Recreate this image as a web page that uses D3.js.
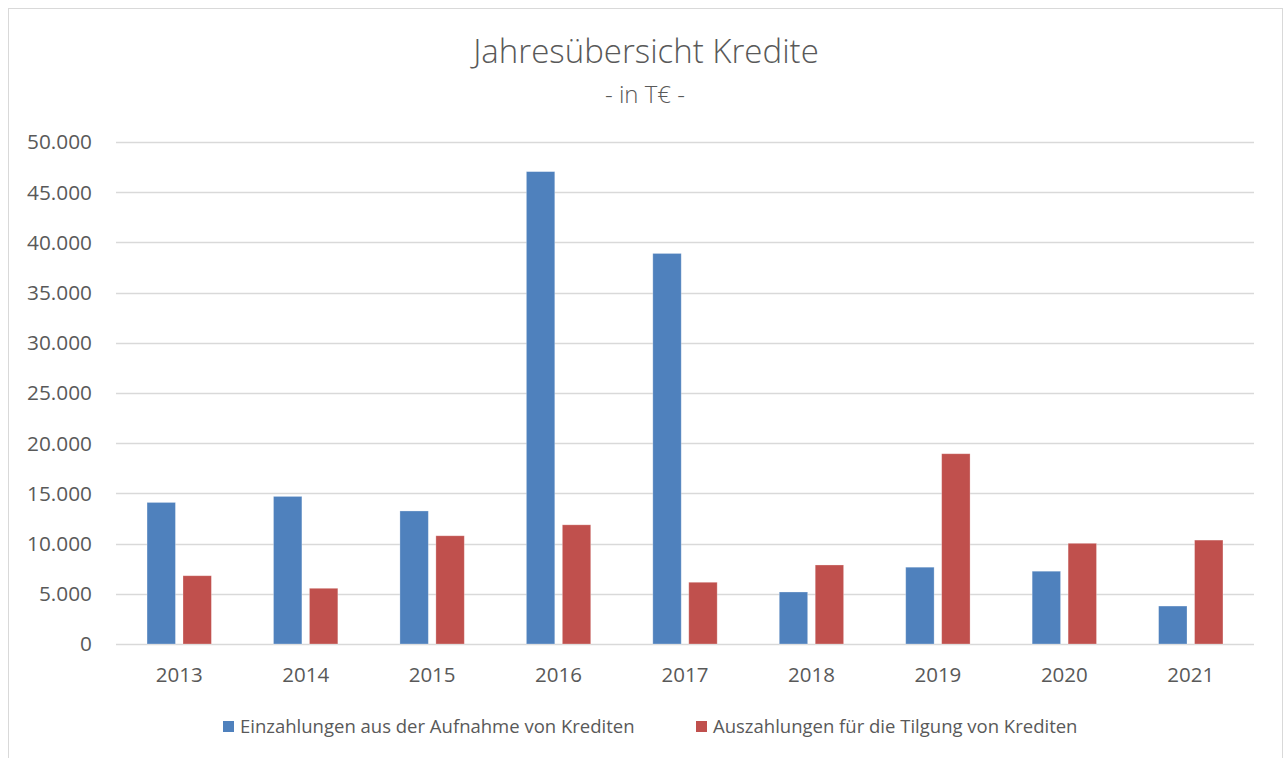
<!DOCTYPE html>
<html>
<head>
<meta charset="utf-8">
<script src="https://cdn.jsdelivr.net/npm/d3@7"></script>
<style>
  html, body { margin: 0; padding: 0; background: #fff; }
  svg text { font-family: "Open Sans", "Noto Sans", sans-serif; fill: #595959; }
</style>
</head>
<body>
<div id="chart"></div>
<script>
"use strict";

// data
var years = ["2013", "2014", "2015", "2016", "2017", "2018", "2019", "2020", "2021"];
var einzahlungen = [14100, 14700, 13250, 47050, 38900, 5180, 7650, 7250, 3780];
var auszahlungen = [6800, 5550, 10780, 11870, 6150, 7870, 18950, 10030, 10350];
var seriesNames = ["Einzahlungen aus der Aufnahme von Krediten", "Auszahlungen für die Tilgung von Krediten"];
var yTicks = [0, 5000, 10000, 15000, 20000, 25000, 30000, 35000, 40000, 45000, 50000];

(function(){

	var width = 1287;
	var height = 758;
	var colors = ["#4f81bd", "#c0504d"];

	var plotLeft = 116, plotRight = 1254, plotTop = 142, plotBottom = 644;

	var de = d3.formatLocale({ decimal: ",", thousands: ".", grouping: [3], currency: ["", " €"] });
	var fmt = de.format(",.0f");

	var rows = years.map(function(y, i){
		return { year: y, values: [einzahlungen[i], auszahlungen[i]] };
	});

	var svg = d3.select("#chart")
				.append("svg")
				.attr("width", width)
				.attr("height", height);

	// chart frame
	svg.append("rect")
		.attr("x", 8.5)
		.attr("y", 8.5)
		.attr("width", 1274)
		.attr("height", 760)
		.style("fill", "white")
		.style("stroke", "#d9d9d9")
		.style("stroke-width", 1);

	var x = d3.scaleBand()
				.domain(years)
				.range([plotLeft, plotRight])
				.paddingInner(0)
				.paddingOuter(0);

	var bw = x.bandwidth();

	var xs = d3.scaleBand()
				.domain([0, 1])
				.range([bw * 0.2455, bw * 0.7545])
				.paddingInner(0.21);

	var y = d3.scaleLinear()
				.domain([0, 50000])
				.range([plotBottom, plotTop]);

	// gridlines
	svg.append("g")
		.selectAll("line")
		.data(yTicks)
		.enter()
		.append("line")
		.attr("x1", plotLeft)
		.attr("x2", plotRight)
		.attr("y1", function(d){ return Math.round(y(d)) + 0.5; })
		.attr("y2", function(d){ return Math.round(y(d)) + 0.5; })
		.style("stroke", "#d9d9d9")
		.style("stroke-width", function(d){ return d === 0 ? 1.5 : 1.3; });

	// y labels
	svg.append("g")
		.selectAll("text")
		.data(yTicks)
		.enter()
		.append("text")
		.attr("x", 92)
		.attr("y", function(d){ return y(d); })
		.attr("dy", "0.36em")
		.attr("text-anchor", "end")
		.style("font-size", "20.8px")
		.text(function(d){ return fmt(d); });

	// bars
	var group = svg.append("g")
		.selectAll("g.year")
		.data(rows)
		.enter()
		.append("g")
		.attr("class", "year")
		.attr("transform", function(d){ return "translate(" + x(d.year) + ",0)"; });

	group.selectAll("rect")
		.data(function(d){ return d.values; })
		.enter()
		.append("rect")
		.attr("x", function(d, i){ return xs(i); })
		.attr("y", function(d){ return y(d); })
		.attr("width", xs.bandwidth())
		.attr("height", function(d){ return y(0) - y(d); })
		.style("fill", function(d, i){ return colors[i]; })
		.style("stroke", "white")
		.style("stroke-opacity", 0.35)
		.style("stroke-width", 0.8);

	// x labels
	svg.append("g")
		.selectAll("text")
		.data(years)
		.enter()
		.append("text")
		.attr("x", function(d){ return x(d) + bw / 2; })
		.attr("y", 682)
		.attr("text-anchor", "middle")
		.style("font-size", "20.5px")
		.text(function(d){ return d; });

	// title
	svg.append("text")
		.attr("x", 646)
		.attr("y", 63)
		.attr("text-anchor", "middle")
		.style("font-size", "33px")
		.style("font-weight", 300)
		.text("Jahresübersicht Kredite");

	svg.append("text")
		.attr("x", 645)
		.attr("y", 103)
		.attr("text-anchor", "middle")
		.style("font-size", "24px")
		.style("font-weight", 300)
		.text("- in T€ -");

	// legend
	var legendX = [223, 696];
	var legend = svg.append("g")
		.selectAll("g.legend")
		.data(seriesNames)
		.enter()
		.append("g")
		.attr("class", "legend")
		.attr("transform", function(d, i){ return "translate(" + legendX[i] + ",721)"; });

	legend.append("rect")
		.attr("width", 11)
		.attr("height", 11)
		.style("fill", function(d, i){ return colors[i]; });

	legend.append("text")
		.attr("x", 17)
		.attr("y", 12)
		.style("font-size", "18.5px")
		.text(function(d){ return d; });

})();
</script>
</body>
</html>
